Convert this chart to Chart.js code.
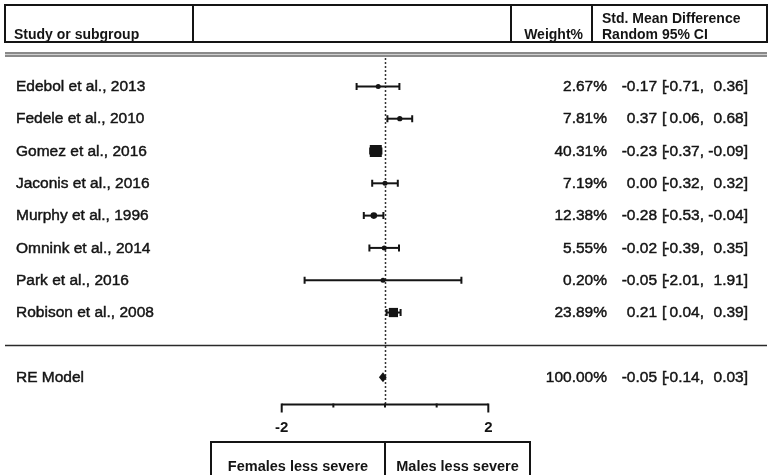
<!DOCTYPE html>
<html>
<head>
<meta charset="utf-8">
<script src="https://cdn.jsdelivr.net/npm/chart.js@4.4.1/dist/chart.umd.min.js"></script>
<style>
  html, body { margin: 0; padding: 0; background: #ffffff; }
  #wrap { width: 771px; height: 475px; position: relative; }
</style>
</head>
<body>
<div id="wrap"><canvas id="c"></canvas></div>
<script>
// ---------- DATA ----------
const studies = ['Edebol et al., 2013', 'Fedele et al., 2010', 'Gomez et al., 2016', 'Jaconis et al., 2016',
                 'Murphy et al., 1996', 'Omnink et al., 2014', 'Park et al., 2016', 'Robison et al., 2008'];
const smd     = [-0.17, 0.37, -0.23, 0.00, -0.28, -0.02, -0.05, 0.21];
const ciLow   = [-0.71, 0.06, -0.37, -0.32, -0.53, -0.39, -2.01, 0.04];
const ciHigh  = [ 0.36, 0.68, -0.09, 0.32, -0.04, 0.35, 1.91, 0.39];
const weights = [2.67, 7.81, 40.31, 7.19, 12.38, 5.55, 0.20, 23.89];
const pooledLabel  = 'RE Model';
const pooledValues = [-0.05, -0.14, 0.03];   // estimate, lower, upper
const pooledWeight = 100.00;
const axisTickValues = [-2, -1, 0, 1, 2];
const axisTickLabels = ['-2', '', '', '', '2'];
const headerLabels = ['Study or subgroup', 'Weight%', 'Std. Mean Difference', 'Random 95% CI'];
const directionLabels = ['Females less severe', 'Males less severe'];

// ---------- STYLE ----------
const INK = '#141414';
const FONT = '"Liberation Sans", Arial, sans-serif';
const pooledRow = studies.length + 1;
const maxW = Math.max(...weights);
const sides = weights.map(w => Math.max(5, 12 * Math.sqrt(w / maxW)));
const pStyles = sides.map(s => s < 7 ? 'circle' : 'rect');
const pRadius = sides.map((s, i) => pStyles[i] === 'circle' ? s / 2 : s / Math.SQRT2);
const fmt = v => v.toFixed(2);

function heavyText(ctx, txt, x, y) {
  ctx.fillText(txt, x, y);
  ctx.strokeText(txt, x, y);
}

const forestPlugin = {
  id: 'forest',
  beforeDatasetsDraw(chart) {
    const ctx = chart.ctx, x = chart.scales.x, y = chart.scales.y;
    ctx.save();
    // dotted null line
    ctx.strokeStyle = '#333';
    ctx.lineWidth = 1.5;
    ctx.setLineDash([2, 2]);
    const x0 = Math.round(x.getPixelForValue(0)) + 0.5;
    ctx.beginPath(); ctx.moveTo(x0, 58); ctx.lineTo(x0, 404); ctx.stroke();
    ctx.setLineDash([]);
    // CI bars
    ctx.strokeStyle = INK;
    studies.forEach((s, i) => {
      const yy = y.getPixelForValue(i);
      const xl = x.getPixelForValue(ciLow[i]), xh = x.getPixelForValue(ciHigh[i]);
      ctx.lineWidth = 2;
      ctx.beginPath(); ctx.moveTo(xl, yy); ctx.lineTo(xh, yy); ctx.stroke();
      ctx.beginPath();
      ctx.moveTo(xl, yy - 3.5); ctx.lineTo(xl, yy + 3.5);
      ctx.moveTo(xh, yy - 3.5); ctx.lineTo(xh, yy + 3.5);
      ctx.stroke();
    });
    ctx.restore();
  },
  afterDatasetsDraw(chart) {
    const ctx = chart.ctx, x = chart.scales.x, y = chart.scales.y;
    // pooled diamond
    const yy = y.getPixelForValue(pooledRow);
    ctx.save();
    ctx.fillStyle = INK;
    ctx.beginPath();
    ctx.moveTo(x.getPixelForValue(pooledValues[1]) - 0.5, yy);
    ctx.lineTo(x.getPixelForValue(pooledValues[0]), yy - 5);
    ctx.lineTo(x.getPixelForValue(pooledValues[2]) + 0.5, yy);
    ctx.lineTo(x.getPixelForValue(pooledValues[0]), yy + 5);
    ctx.closePath(); ctx.fill();
    ctx.restore();
  },
  afterDraw(chart) {
    const ctx = chart.ctx, y = chart.scales.y, xa = chart.scales.xa;
    ctx.save();
    ctx.strokeStyle = INK;
    ctx.fillStyle = INK;
    // header box
    ctx.lineWidth = 2;
    ctx.strokeRect(5, 5, 762, 37);
    [193, 511, 592].forEach(px => {
      ctx.beginPath(); ctx.moveTo(px, 5); ctx.lineTo(px, 42); ctx.stroke();
    });
    // double rule under header
    ctx.fillStyle = '#8a8a8a';
    ctx.fillRect(5, 52, 762, 5);
    ctx.fillStyle = '#d0d0d0';
    ctx.fillRect(5, 54, 762, 1);
    ctx.fillStyle = INK;
    // separator above pooled row
    const ySep = Math.round(y.getPixelForValue(studies.length)) + 0.5;
    ctx.strokeStyle = '#2a2a2a';
    ctx.lineWidth = 1.5;
    ctx.beginPath(); ctx.moveTo(5, ySep); ctx.lineTo(767, ySep); ctx.stroke();

    // header texts
    ctx.font = 'bold 14px ' + FONT;
    ctx.textBaseline = 'alphabetic';
    ctx.textAlign = 'left';
    ctx.fillText(headerLabels[0], 14, 39);
    ctx.textAlign = 'right';
    ctx.fillText(headerLabels[1], 583, 39);
    ctx.textAlign = 'left';
    ctx.fillText(headerLabels[2], 602, 23);
    ctx.fillText(headerLabels[3], 602, 39);

    // rows
    ctx.font = '15.5px ' + FONT;
    ctx.textBaseline = 'middle';
    ctx.strokeStyle = INK;
    ctx.lineWidth = 0.45;
    const drawRow = (label, row, w, est, lo, hi) => {
      const yy = y.getPixelForValue(row) + 0.5;
      ctx.textAlign = 'left';
      heavyText(ctx, label, 16, yy);
      ctx.textAlign = 'right';
      heavyText(ctx, w.toFixed(2) + '%', 607, yy);
      heavyText(ctx, fmt(est), 657, yy);
      ctx.textAlign = 'left';
      heavyText(ctx, '[', 662, yy);
      ctx.textAlign = 'right';
      heavyText(ctx, fmt(lo) + ',', 704, yy);
      heavyText(ctx, fmt(hi) + ']', 748, yy);
    };
    studies.forEach((s, i) => drawRow(s, i, weights[i], smd[i], ciLow[i], ciHigh[i]));
    drawRow(pooledLabel, pooledRow, pooledWeight, pooledValues[0], pooledValues[1], pooledValues[2]);

    // bottom axis
    const ax = 404.5;
    const xl = xa.getPixelForValue(axisTickValues[0]);
    const xr = xa.getPixelForValue(axisTickValues[axisTickValues.length - 1]);
    ctx.strokeStyle = INK;
    ctx.lineWidth = 2;
    ctx.beginPath(); ctx.moveTo(xl, ax); ctx.lineTo(xr, ax); ctx.stroke();
    ctx.font = 'bold 15px ' + FONT;
    ctx.textAlign = 'center';
    ctx.textBaseline = 'middle';
    axisTickValues.forEach((v, i) => {
      const px = xa.getPixelForValue(v);
      const end = (i === 0 || i === axisTickValues.length - 1);
      ctx.lineWidth = 2;
      ctx.beginPath(); ctx.moveTo(px, ax - 1); ctx.lineTo(px, ax + (end ? 8 : 3)); ctx.stroke();
      if (axisTickLabels[i]) ctx.fillText(axisTickLabels[i], px, 428);
    });

    // direction box
    const xm = xa.getPixelForValue(0);
    ctx.lineWidth = 2;
    ctx.beginPath();
    ctx.moveTo(211, 476); ctx.lineTo(211, 442); ctx.lineTo(530, 442); ctx.lineTo(530, 476);
    ctx.moveTo(xm, 442); ctx.lineTo(xm, 476);
    ctx.stroke();
    ctx.font = 'bold 14.5px ' + FONT;
    ctx.textBaseline = 'alphabetic';
    ctx.textAlign = 'center';
    ctx.fillText(directionLabels[0], (211 + xm) / 2, 471);
    ctx.fillText(directionLabels[1], (xm + 530) / 2, 471);
    ctx.restore();
  }
};

new Chart(document.getElementById('c'), {
  type: 'scatter',
  data: {
    datasets: [{
      label: 'Std. Mean Difference',
      data: studies.map((s, i) => ({ x: smd[i], y: i })),
      pointStyle: pStyles,
      pointRadius: pRadius,
      pointHoverRadius: pRadius,
      backgroundColor: INK,
      borderColor: INK,
      borderWidth: 0
    }]
  },
  options: {
    responsive: true,
    maintainAspectRatio: false,
    animation: false,
    layout: { padding: 0, autoPadding: false },
    plugins: { legend: { display: false }, tooltip: { enabled: false } },
    scales: {
      x:  { type: 'linear', min: -9.625, max: 9.65, display: false },
      xa: { type: 'linear', axis: 'x', position: 'bottom', min: -7.454, max: 7.473, display: false },
      y:  { type: 'linear', reverse: true, min: -2.675, max: 12.03, display: false }
    }
  },
  plugins: [forestPlugin]
});
</script>
</body>
</html>
